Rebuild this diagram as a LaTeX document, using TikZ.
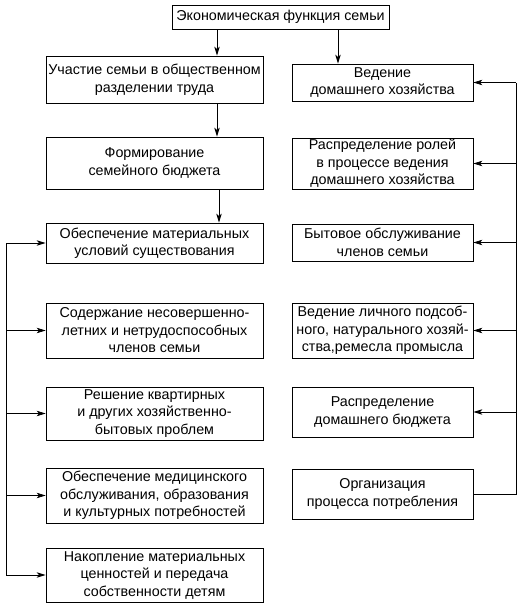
\documentclass[tikz,border=0pt]{standalone}
\usepackage{fontspec}
\setmainfont{Liberation Sans}
\usetikzlibrary{arrows.meta}
\begin{document}
\begin{tikzpicture}[x=1pt,y=-1pt,
  box/.style={draw, line width=0.8pt, inner sep=0pt, align=center, font=\fontsize{14.3}{17.5}\selectfont},
  lbox/.style={box, minimum width=217pt},
  rbox/.style={box, minimum width=181pt},
  arr/.style={line width=0.8pt, -{Stealth[length=9pt,width=5.5pt,inset=2.5pt]}},
  ln/.style={line width=0.8pt}]
\useasboundingbox (0,0) rectangle (523,608);
\node[box, minimum width=217pt, minimum height=24pt] (top) at (280.5,17) {Экономическая функция семьи};
\node[lbox, minimum height=47pt] (l1) at (154.5,79.5) {Участие семьи в общественном\\разделении труда};
\node[lbox, minimum height=52pt] (l2) at (154.5,163) {Формирование\\семейного бюджета};
\node[lbox, minimum height=40pt] (l3) at (154.5,243) {Обеспечение материальных\\условий существования};
\node[lbox, minimum height=55pt] (l4) at (154.5,330.5) {Содержание несовершенно-\\летних и нетрудоспособных\\членов семьи};
\node[lbox, minimum height=53pt] (l5) at (154.5,413.5) {Решение квартирных\\и других хозяйственно-\\бытовых проблем};
\node[lbox, minimum height=55pt] (l6) at (154.5,495.5) {Обеспечение медицинского\\обслуживания, образования\\и культурных потребностей};
\node[lbox, minimum height=54pt] (l7) at (154.5,575) {Накопление материальных\\ценностей и передача\\собственности детям};
\node[rbox, minimum height=37pt] (r1) at (382.5,82.5) {Ведение\\домашнего хозяйства};
\node[rbox, minimum height=51pt] (r2) at (382.5,163.5) {Распределение ролей\\в процессе ведения\\домашнего хозяйства};
\node[rbox, minimum height=37pt] (r3) at (382.5,242.5) {Бытовое обслуживание\\членов семьи};
\node[rbox, minimum height=55pt] (r4) at (382.5,330.5) {Ведение личного подсоб-\\ного, натурального хозяй-\\ства,ремесла промысла};
\node[rbox, minimum height=50pt] (r5) at (382.5,412) {Распределение\\домашнего бюджета};
\node[rbox, minimum height=50pt] (r6) at (382.5,494) {Организация\\процесса потребления};
\coordinate (ca) at (217,0);
\coordinate (cb) at (338,0);
\coordinate (cc) at (219,0);
\coordinate (lbus) at (6,0);
\coordinate (rbus) at (516,0);
\draw[arr] (top.south -| ca) -- (l1.north -| ca);
\draw[arr] (top.south -| cb) -- (r1.north -| cb);
\draw[arr] (l1.south -| ca) -- (l2.north -| ca);
\draw[arr] (l2.south -| cc) -- (l3.north -| cc);
\draw[ln] (lbus |- l3) -- (lbus |- l7);
\foreach \n in {l3,l4,l5,l6,l7} \draw[arr] (lbus |- \n) -- (\n.west);
\draw[ln] (r6.east) -- (rbus |- r6) -- (rbus |- r1);
\foreach \n in {r1,r2,r3,r4,r5} \draw[arr] (rbus |- \n) -- (\n.east);
\end{tikzpicture}
\end{document}
